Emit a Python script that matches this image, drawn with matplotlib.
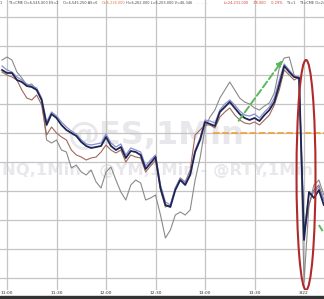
import numpy as np
import matplotlib
matplotlib.use("Agg")
import matplotlib.pyplot as plt
from matplotlib.patches import Ellipse, Rectangle

# minutes after 11:00 (3-minute samples)
minutes = np.arange(-3, 193, 3)

# normalised change (ticks from reference level)
es = [63, 60, 60, 53, 51, 47, 46, 43, 33, 8, 19, 15, 8, 3, 0, -3, -9, -13, -15, -14,
      -13, -4, -13, -17, -14, -25, -18, -19, -22, -36, -30, -24, -55, -72, -74, -57,
      -47, -52, -42, -19, -7, 11, 9, 7, 21, 26, 31, 25, 19, 15, 13, 15, 12, 18, 23,
      31, 48, 67, 61, 56, 55, -107, -59, -65, -57, -72]
nq = [67, 63, 61, 56, 53, 49, 47, 45, 35, 11, 21, 17, 11, 6, 2, -1, -7, -11, -12, -11,
      -10, -1, -10, -14, -11, -22, -15, -17, -19, -33, -27, -22, -52, -69, -72, -55,
      -45, -50, -40, -17, -5, 13, 12, 10, 23, 29, 33, 28, 22, 18, 17, 19, 15, 21, 26,
      35, 53, 69, 63, 57, 56, -99, -62, -59, -54, -67]
ym = [61, 58, 56, 53, 43, 35, 33, 38, 28, -2, 6, 0, -4, -7, -17, -22, -24, -27, -25, -24,
      -19, -12, -17, -20, -17, -29, -22, -24, -25, -39, -33, -27, -57, -74, -72, -55,
      -45, -49, -37, -2, 3, 8, 8, 5, 16, 21, 25, 18, 13, 10, 9, 11, 8, 13, 18,
      28, 43, 63, 58, 53, 56, -102, -72, -57, -52, -67]
rty = [73, 76, 73, 61, 55, 48, 49, 43, 33, -7, -10, -7, -17, -19, -35, -32, -39, -42, -37, -49,
       -55, -39, -34, -47, -59, -67, -52, -47, -50, -67, -65, -62, -82, -105, -97, -82,
       -79, -82, -77, -47, -25, 5, 16, 23, 35, 43, 51, 43, 35, 31, 29, 25, 23, 27, 30,
       40, 65, 75, 76, 58, 53, -149, -72, -52, -47, -62]

xtick_pos = [0, 30, 60, 90, 120, 150, 180]
xtick_labels = ["11:00", "11:30", "12:00", "12:30", "13:00", "13:30", "3/22"]
ygrid = [-145, -116, -87, -58, -29, 0, 29, 58, 87, 116]

W, H = 324, 299
fig = plt.figure(figsize=(W / 100, H / 100), dpi=100)
ax = fig.add_axes([0, 9 / H, 1, 1 - 9 / H])
ax.set_xlim(-4.24, 192.1)
ax.set_ylim(-157, 133)
ax.set_xticks(xtick_pos)
ax.set_yticks(ygrid)
ax.tick_params(length=0, labelbottom=False, labelleft=False)
for s in ax.spines.values():
    s.set_visible(False)
ax.grid(True, color="#c4c4c4", lw=0.9, zorder=0)

# watermarks
ax.text(37, -2, "@ES,1Min", fontsize=23, fontweight="bold", color="#e8e8ec",
        ha="left", va="center", zorder=1)
ax.text(-3, -38, "NQ,1Min - @YM,1Min - @RTY,1Min", fontsize=11.8, fontweight="bold",
        color="#e8e8ec", ha="left", va="center", zorder=1, clip_on=True)

# orange reference line
ax.plot([125, 192.1], [0, 0], color="#f0a030", lw=1.2, ls=(0, (4, 1.5)), zorder=2)

ax.plot(minutes, rty, color="#8a8a8a", lw=0.8, zorder=3)
ax.plot(minutes, ym, color="#a06858", lw=0.8, zorder=3)
ax.plot(minutes, nq, color="#8a8ed0", lw=0.9, zorder=4)
ax.plot(minutes, es, color="#1c2452", lw=1.3, zorder=5)

# annotations
ax.annotate("", xy=(168, 75), xytext=(139.4, 10),
            arrowprops=dict(arrowstyle="-|>", color="#5cb85c", lw=1.4, ls="--",
                            mutation_scale=8), zorder=6)
ax.plot([189, 192], [-92, -100], color="#5cb85c", lw=1.4, ls="--", zorder=6)
ax.add_patch(Ellipse((181.2, -42), 11.5, 230, fill=False, ec="#b02a2a", lw=1.5, zorder=7))

# header
hdr = [
    (0, "1", "#444444"), (8, "T3=CME O=6,545.000 ES=2", "#444444"),
    (63, "O=6,545.250 AS=6", "#444444"), (102, "O=6,218.000", "#e07040"),
    (126, "H=6,262.000 L=6,203.000 V=46,346", "#444444"),
    (196, "... ... ...", "#bbbbbb"), (224, "L=24,231.000", "#d04030"),
    (253, "-78.000", "#d04030"), (271, "-0.29%", "#d04030"),
    (286, "TS=1", "#444444"), (299, "T3=CME O=24", "#444444"),
]
for x, t, c in hdr:
    fig.text(x / W, 1 - 3.5 / H, t, fontsize=2.5, color=c, ha="left", va="center")

for p, lab in zip(xtick_pos, xtick_labels):
    xf = (p + 4.24) / (192.1 + 4.24)
    fig.text(xf, 1 - 293 / H, lab, fontsize=3.2, color="#333333", ha="center", va="center")

fig.patches.append(Rectangle((0, 0), 1, 3 / H, transform=fig.transFigure,
                             color="#333333", zorder=10))

fig.savefig("out.png", dpi=100)
